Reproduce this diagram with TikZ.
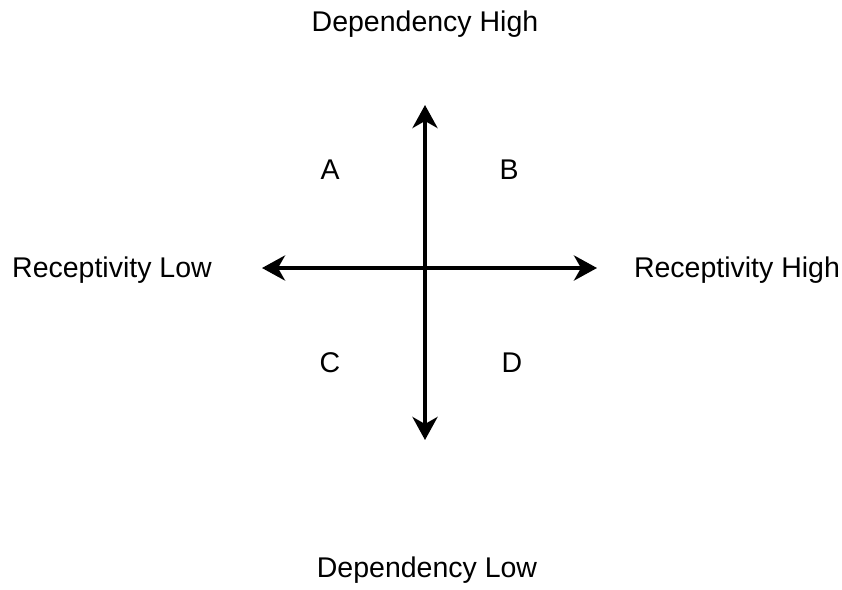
\documentclass[tikz,border=0pt]{standalone}
\usepackage{fontspec}
\setmainfont{Liberation Sans}
\usetikzlibrary{arrows.meta, positioning}

\tikzset{
  axislabel/.style={font=\fontsize{28.5}{34}\selectfont, inner sep=0pt},
  axisline/.style={{Stealth[length=23pt, width=25pt, inset=7pt]}-{Stealth[length=23pt, width=25pt, inset=7pt]}, line width=4pt, black}
}

\begin{document}
\begin{tikzpicture}[x=1pt, y=-1pt]
\useasboundingbox (0,0) rectangle (842,589);

% === Axis ends ===
\coordinate (top) at (425,105);
\coordinate (bottom) at (425,440);
\coordinate (left) at (262,268);
\coordinate (right) at (597,268);

% === Axes ===
\draw[axisline] (bottom) -- (top);
\draw[axisline] (left) -- (right);

% === Axis labels ===
\node[axislabel] (dephigh) at (425,24) {Dependency High};
\node[axislabel] (deplow) at (427,570) {Dependency Low};
\node[axislabel] (reclow) at (112,270) {Receptivity Low};
\node[axislabel] (rechigh) at (737,270) {Receptivity High};

% === Quadrants ===
\node[axislabel] (qa) at (330,170) {A};
\node[axislabel] (qb) at (509,170) {B};
\node[axislabel] (qc) at (330,363) {C};
\node[axislabel] (qd) at (512,363) {D};

\end{tikzpicture}
\end{document}
